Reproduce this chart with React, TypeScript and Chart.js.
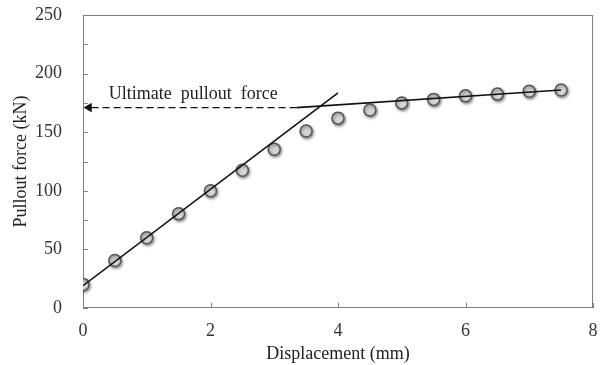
import React, { useEffect, useRef } from 'react';
import { Chart, registerables } from 'chart.js';
Chart.register(...registerables);

const displacement = [0, 0.5, 1, 1.5, 2, 2.5, 3, 3.5, 4, 4.5, 5, 5.5, 6, 6.5, 7, 7.5];
const force = [20, 40.5, 60, 80.5, 100, 117.5, 135.5, 151, 162, 169, 175, 178, 181, 182.5, 185, 186];
const elasticFitX = [0, 4];
const elasticFitY = [19, 183.5];
const plasticFitX = [3.35, 7.5];
const plasticFitY = [171, 186];
const ultimateArrowX = [3.35, 0.094];
const ultimateArrowY = [171, 171];
const annotationText = 'Ultimate  pullout  force';
const annotationX = 1.73;
const annotationY = 182;
const xAxisTitle = 'Displacement (mm)';
const yAxisTitle = 'Pullout force (kN)';

const FONT = "'Liberation Serif', 'Times New Roman', serif";

const decor = {
  id: 'decor',
  beforeDatasetsDraw(chart: any) {
    const { ctx, chartArea: a, scales } = chart;
    ctx.save();
    ctx.strokeStyle = '#808080';
    ctx.lineWidth = 1;
    ctx.strokeRect(a.left + 0.5, a.top + 0.5, a.right - a.left - 1, a.bottom - a.top - 1);
    ctx.beginPath();
    scales.y.ticks.forEach((t: any) => {
      const y = Math.round(scales.y.getPixelForValue(t.value)) + 0.5;
      ctx.moveTo(a.left, y);
      ctx.lineTo(a.left + 5, y);
    });
    scales.x.ticks.forEach((t: any) => {
      const x = Math.round(scales.x.getPixelForValue(t.value)) + 0.5;
      ctx.moveTo(x, a.bottom);
      ctx.lineTo(x, a.bottom - 5);
    });
    ctx.stroke();
    ctx.restore();
  },
  beforeDatasetDraw(chart: any, args: any) {
    if (args.meta.label === 'Measured') {
      const ctx = chart.ctx;
      ctx.save();
      ctx.shadowColor = 'rgba(0,0,0,0.45)';
      ctx.shadowBlur = 3;
      ctx.shadowOffsetX = 1;
      ctx.shadowOffsetY = 1.5;
    }
  },
  afterDatasetDraw(chart: any, args: any) {
    if (args.meta.label === 'Measured') chart.ctx.restore();
  },
  afterDatasetsDraw(chart: any) {
    const { ctx, scales } = chart;
    ctx.save();
    ctx.font = `18px ${FONT}`;
    ctx.fillStyle = '#222';
    ctx.textAlign = 'center';
    ctx.textBaseline = 'middle';
    ctx.fillText(annotationText, scales.x.getPixelForValue(annotationX), scales.y.getPixelForValue(annotationY));
    ctx.restore();
  },
};

export default function App() {
  const ref = useRef<HTMLCanvasElement>(null);
  useEffect(() => {
    document.body.style.margin = '0';
    const pts = (xs: number[], ys: number[]) => xs.map((x, i) => ({ x, y: ys[i] }));
    const chart = new Chart(ref.current!, {
      type: 'scatter',
      data: {
        datasets: [
          {
            label: 'Elastic fit',
            data: pts(elasticFitX, elasticFitY),
            showLine: true,
            borderColor: '#111',
            borderWidth: 1.6,
            pointRadius: 0,
            order: 0,
          },
          {
            label: 'Plastic fit',
            data: pts(plasticFitX, plasticFitY),
            showLine: true,
            borderColor: '#111',
            borderWidth: 1.6,
            pointRadius: 0,
            order: 0,
          },
          {
            label: 'Ultimate',
            data: pts(ultimateArrowX, ultimateArrowY),
            showLine: true,
            borderColor: '#111',
            borderWidth: 1.4,
            borderDash: [7, 4],
            pointRadius: [0, 5],
            pointStyle: 'triangle',
            rotation: 270,
            pointBackgroundColor: '#111',
            pointBorderColor: '#111',
            pointBorderWidth: 0.5,
            order: 0,
          },
          {
            label: 'Measured',
            data: pts(displacement, force),
            showLine: false,
            pointRadius: 6,
            pointBorderWidth: 1.5,
            pointBackgroundColor: '#d6d6d6',
            pointBorderColor: '#555',
            order: 1,
          },
        ],
      },
      options: {
        animation: false,
        responsive: true,
        maintainAspectRatio: false,
        layout: { padding: 0 },
        plugins: { legend: { display: false }, tooltip: { enabled: false } },
        scales: {
          x: {
            type: 'linear',
            min: 0,
            max: 8,
            border: { display: false },
            grid: { display: false, drawTicks: false },
            ticks: { stepSize: 2, autoSkip: false, padding: 12, color: '#333', font: { family: FONT, size: 18 } },
            title: { display: true, text: xAxisTitle, color: '#222', font: { family: FONT, size: 18 }, padding: { top: 0, bottom: 0 } },
            afterFit: (s: any) => {
              s.height = 57;
              s.paddingLeft = 0;
              s.paddingRight = 11;
              s.paddingTop = 0;
              s.paddingBottom = 0;
            },
          },
          y: {
            type: 'linear',
            min: 0,
            max: 250,
            border: { display: false },
            grid: { display: false, drawTicks: false },
            ticks: {
              stepSize: 25,
              autoSkip: false,
              padding: 21,
              color: '#333',
              font: { family: FONT, size: 18 },
              callback: (v: any) => (Number(v) % 50 === 0 ? String(v) : ''),
            },
            title: { display: true, text: yAxisTitle, color: '#222', font: { family: FONT, size: 18 }, padding: { top: 10, bottom: 0 } },
            afterFit: (s: any) => {
              s.width = 83;
              s.paddingTop = 15;
              s.paddingBottom = 0;
              s.paddingLeft = 0;
              s.paddingRight = 0;
            },
          },
        },
      },
      plugins: [decor],
    });
    return () => chart.destroy();
  }, []);
  return (
    <div style={{ position: 'relative', width: 604, height: 365 }}>
      <canvas ref={ref} />
    </div>
  );
}
